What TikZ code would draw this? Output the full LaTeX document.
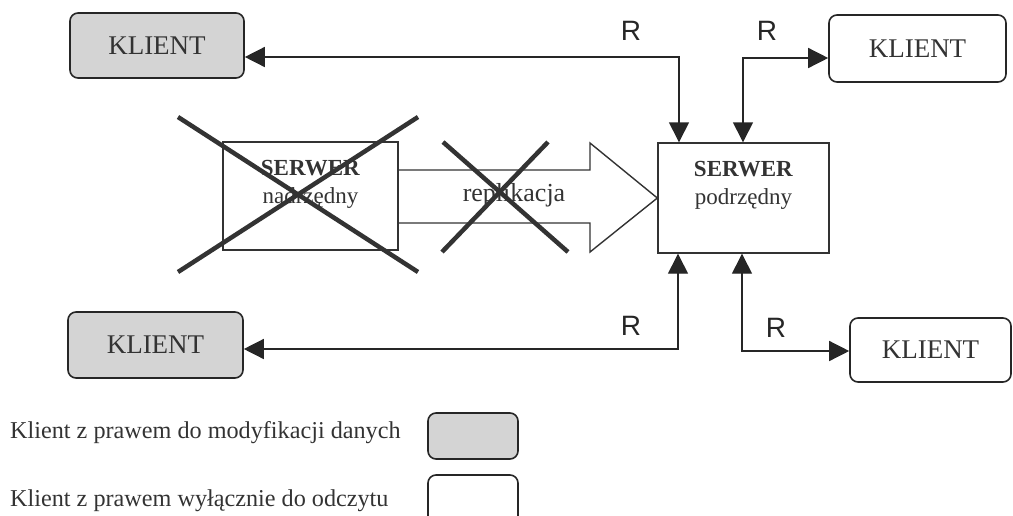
\documentclass[tikz,border=0pt]{standalone}
\usepackage{fontspec}
\setmainfont{Liberation Serif}
\newfontfamily\handfont{Liberation Sans}
\usetikzlibrary{arrows.meta}
\tikzset{
  klient/.style={draw=black!85, line width=1.6pt, rounded corners=8pt, inner sep=0pt,
    font=\fontsize{27}{27}\selectfont, text=black!80},
  rwbox/.style={klient, fill=black!17},
  robox/.style={klient, fill=white},
  srvbox/.style={draw=black!80, line width=1.4pt, inner sep=0pt, fill=white},
  srvtext/.style={align=center, font=\fontsize{23}{28}\selectfont, text=black!80},
  link/.style={draw=black!85, line width=1.4pt,
    {Triangle[length=20pt,width=20pt]}-{Triangle[length=20pt,width=20pt]}},
  cross/.style={draw=black!80, line width=4.5pt},
  rlabel/.style={font=\handfont\fontsize{28}{28}\selectfont, text=black!85},
  legtext/.style={anchor=base west, inner sep=0pt, font=\fontsize{24.2}{24.2}\selectfont, text=black!80},
}
\begin{document}
\begin{tikzpicture}[x=1pt,y=-1pt]
\path[use as bounding box] (0,0) rectangle (1013,515);

% clients
\node[rwbox, minimum width=174pt, minimum height=65pt] (tl) at (157,45.5) {KLIENT};
\node[robox, minimum width=177pt, minimum height=67pt] (tr) at (917.5,48.5) {KLIENT};
\node[rwbox, minimum width=175pt, minimum height=66pt] (bl) at (155.5,345) {KLIENT};
\node[robox, minimum width=161pt, minimum height=64pt] (br) at (930.5,350) {KLIENT};

% servers
\node[srvbox, minimum width=175pt, minimum height=108pt] (old) at (310.5,196) {};
\node[srvtext] (oldt) at (310.5,184) {\textbf{SERWER}\\nadrzędny};
\node[srvbox, minimum width=171pt, minimum height=110pt] (srv) at (743.5,198) {};
\node[srvtext] (srvt) at (743.5,185) {\textbf{SERWER}\\podrzędny};

% replication block arrow
\coordinate (a1) at (398,170);
\coordinate (a2) at (590,170);
\coordinate (a3) at (590,143);
\coordinate (a4) at (590,252);
\coordinate (a5) at (590,223);
\coordinate (a6) at (398,223);
\draw[draw=black!80, line width=1.4pt, line join=miter]
  (a1) -- (a2) -- (a3) -- (srv.west) -- (a4) -- (a5) -- (a6);
\node[font=\fontsize{26}{26}\selectfont, text=black!80] (repl) at (514,195) {replikacja};

% crosses
\draw[cross] (178,117) -- (418,272);
\draw[cross] (178,272) -- (418,117);
\draw[cross] (443,142) -- (568,252);
\draw[cross] (548,142) -- (442,252);

% connectors
\coordinate (t1) at (679,57);
\coordinate (t2) at (743,58);
\coordinate (b1) at (678,349);
\coordinate (b2) at (742,351);
\draw[link] (tl.east |- t1) -- (t1) -- (t1 |- srv.north);
\draw[link] (t2 |- srv.north) -- (t2) -- (t2 -| tr.west);
\draw[link] (bl.east |- b1) -- (b1) -- (b1 |- srv.south);
\draw[link] (b2 |- srv.south) -- (b2) -- (b2 -| br.west);

% R labels
\node[rlabel] (r1) at (631,31) {R};
\node[rlabel] (r2) at (767,31) {R};
\node[rlabel] (r3) at (631,326) {R};
\node[rlabel] (r4) at (776,328) {R};

% legend
\node[legtext] (l1) at (10,438) {Klient z prawem do modyfikacji danych};
\node[legtext] (l2) at (10,506) {Klient z prawem wyłącznie do odczytu};
\node[rwbox, minimum width=90pt, minimum height=46pt] (s1) at (473,436) {};
\draw[draw=black!85, line width=1.6pt, rounded corners=8pt] (428,516) -- (428,475) -- (518,475) -- (518,516);
\end{tikzpicture}
\end{document}
